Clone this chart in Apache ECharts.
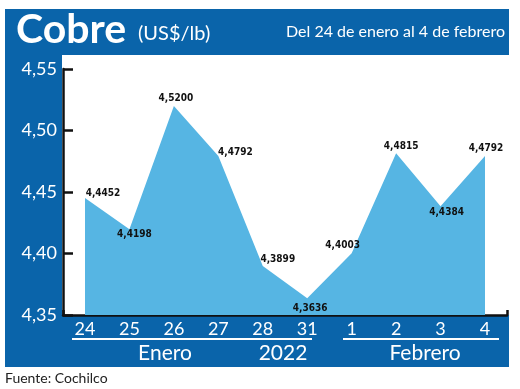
<!DOCTYPE html>
<html>
<head>
<meta charset="utf-8">
<script src="https://cdn.jsdelivr.net/npm/echarts@6/dist/echarts.min.js"></script>
<style>html,body{margin:0;padding:0;background:#fff}#c{width:520px;height:389px}</style>
</head>
<body>
<div id="c"></div>
<script>
// ---- data ----
var categories = ['24', '25', '26', '27', '28', '31', '1', '2', '3', '4'];
var copperPrice = [4.4452, 4.4198, 4.5200, 4.4792, 4.3899, 4.3636, 4.4003, 4.4815, 4.4384, 4.4792];
var yMin = 4.35, yMax = 4.55, yStep = 0.05;
var monthLabels = ['Enero', '2022', 'Febrero'];
var titleText = 'Cobre';
var unitText = '(US$/lb)';
var periodText = 'Del 24 de enero al 4 de febrero';
var sourceText = 'Fuente: Cochilco';

// ---- styles ----
var DARK = '#0A64AA', LIGHT = '#56B5E3';
var labelOffsets = [[18, 1], [5, 11], [2, -2], [17, 2], [15, -1], [3, 16], [-9, -2], [5, -1], [6, 12], [1, -2]];
var labelFont = '"DejaVu Sans Condensed","Liberation Sans Narrow",sans-serif';
var mainFont = 'Lato, "Open Sans", sans-serif';

var seriesData = copperPrice.map(function (v, i) {
  return { value: v, label: { offset: labelOffsets[i] } };
});

var chart = echarts.init(document.getElementById('c'), null, { renderer: 'canvas' });
chart.setOption({
  backgroundColor: '#fff',
  animation: false,
  grid: [
    { left: 85, right: 35, top: 69, bottom: 74 },
    { left: 63, right: 13, top: 69, bottom: 74 }
  ],
  xAxis: [
    {
      type: 'category', gridIndex: 0, data: categories, boundaryGap: false,
      axisLine: { show: false }, axisTick: { show: false },
      axisLabel: { color: '#fff', fontSize: 18, fontFamily: mainFont, margin: 5 }
    },
    {
      type: 'value', gridIndex: 1, min: 0, max: 1, interval: 1,
      axisLine: { show: true, lineStyle: { color: '#111', width: 2.5 } },
      axisTick: { show: true, inside: true, length: 5, lineStyle: { color: '#111', width: 2.5 } },
      axisLabel: { show: false }, splitLine: { show: false }
    }
  ],
  yAxis: [
    {
      type: 'value', gridIndex: 0, min: yMin, max: yMax, interval: yStep, offset: 22,
      axisLine: { show: true, lineStyle: { color: '#111', width: 2.5 } },
      axisTick: { show: true, inside: true, length: 10, lineStyle: { color: '#111', width: 2.5 } },
      splitLine: { show: false },
      axisLabel: {
        color: '#fff', fontSize: 18, fontFamily: mainFont, margin: 6,
        formatter: function (v) { return v.toFixed(2).replace('.', ','); }
      }
    },
    { type: 'value', gridIndex: 1, show: false, min: 0, max: 1 }
  ],
  series: [{
    type: 'line', xAxisIndex: 0, yAxisIndex: 0,
    data: seriesData,
    symbol: 'circle', symbolSize: 1,
    itemStyle: { color: 'rgba(0,0,0,0)' },
    lineStyle: { width: 0, color: LIGHT },
    areaStyle: { color: LIGHT, opacity: 1 },
    label: {
      show: true, position: 'top', distance: 0,
      color: '#111', fontSize: 10, fontWeight: 'bold', fontFamily: labelFont,
      formatter: function (p) { return p.value.toFixed(4).replace('.', ','); }
    },
    z: 3
  }],
  graphic: [{
    type: 'group', z: -10,
    children: [
      { type: 'rect', shape: { x: 5, y: 9, width: 504, height: 358 }, style: { fill: DARK } },
      { type: 'rect', shape: { x: 62, y: 55, width: 458, height: 260 }, style: { fill: '#fff' } }
    ]
  }, {
    type: 'group', z: 10,
    children: [
      { type: 'text', x: 16, y: 30, style: { text: titleText, fill: '#fff', font: 'bold 41px ' + mainFont, textVerticalAlign: 'middle' } },
      { type: 'text', x: 138, y: 34, style: { text: unitText, fill: '#fff', font: '20px ' + mainFont, textVerticalAlign: 'middle' } },
      { type: 'text', x: 505, y: 32, style: { text: periodText, fill: '#fff', font: '16px ' + mainFont, textAlign: 'right', textVerticalAlign: 'middle' } },
      { type: 'line', shape: { x1: 72, y1: 339, x2: 312, y2: 339 }, style: { stroke: '#fff', lineWidth: 2 } },
      { type: 'line', shape: { x1: 343, y1: 339, x2: 499, y2: 339 }, style: { stroke: '#fff', lineWidth: 2 } },
      { type: 'text', x: 165, y: 353, style: { text: monthLabels[0], fill: '#fff', font: '21px ' + mainFont, textAlign: 'center', textVerticalAlign: 'middle' } },
      { type: 'text', x: 283, y: 353, style: { text: monthLabels[1], fill: '#fff', font: '21px ' + mainFont, textAlign: 'center', textVerticalAlign: 'middle' } },
      { type: 'text', x: 425, y: 353, style: { text: monthLabels[2], fill: '#fff', font: '21px ' + mainFont, textAlign: 'center', textVerticalAlign: 'middle' } },
      { type: 'text', x: 5, y: 378, style: { text: sourceText, fill: '#222', font: '14px ' + mainFont, textVerticalAlign: 'middle' } }
    ]
  }]
});
</script>
</body>
</html>
